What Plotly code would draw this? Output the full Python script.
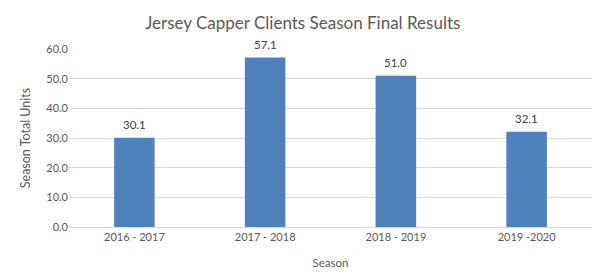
import plotly.graph_objects as go

seasons = ["2016 - 2017", "2017 - 2018", "2018 - 2019", "2019 -2020"]
units = [30.1, 57.1, 51.0, 32.1]
y_ticks = [0, 10, 20, 30, 40, 50, 60]

FONT = "Lato"
GRAY = "#595959"

fig = go.Figure(go.Bar(
    x=seasons, y=units,
    marker=dict(color="#4F81BD", line=dict(width=0)),
    cliponaxis=False,
))
for s, v in zip(seasons, units):
    fig.add_annotation(x=s, y=v, text=f"{v:.1f}", showarrow=False,
                       yanchor="bottom", yshift=5,
                       font=dict(size=11.5, color="#404040", family=FONT))
fig.update_layout(
    width=596, height=276,
    margin=dict(l=69, r=4, t=49, b=49),
    paper_bgcolor="white", plot_bgcolor="white",
    bargap=0.69,
    showlegend=False,
    title=dict(text="Jersey Capper Clients Season Final Results", x=0.508, xanchor="center",
               y=0.918, yanchor="middle",
               font=dict(size=17, color=GRAY, family=FONT)),
    font=dict(family=FONT, color=GRAY, size=11),
)
fig.update_xaxes(
    title=dict(text="Season", font=dict(size=11.5, color=GRAY), standoff=16),
    showline=True, linecolor="#D9D9D9", linewidth=1, ticks="",
    tickfont=dict(size=11, color=GRAY),
)
fig.update_yaxes(
    range=[0, 60], tickvals=y_ticks, ticktext=[f"{v:.1f}" for v in y_ticks],
    showgrid=True, gridcolor="#D9D9D9", gridwidth=1, zeroline=False,
    title=dict(text="Season Total Units", font=dict(size=12.5, color=GRAY), standoff=12),
    tickfont=dict(size=11, color=GRAY),
)
fig.write_html("out.html")
